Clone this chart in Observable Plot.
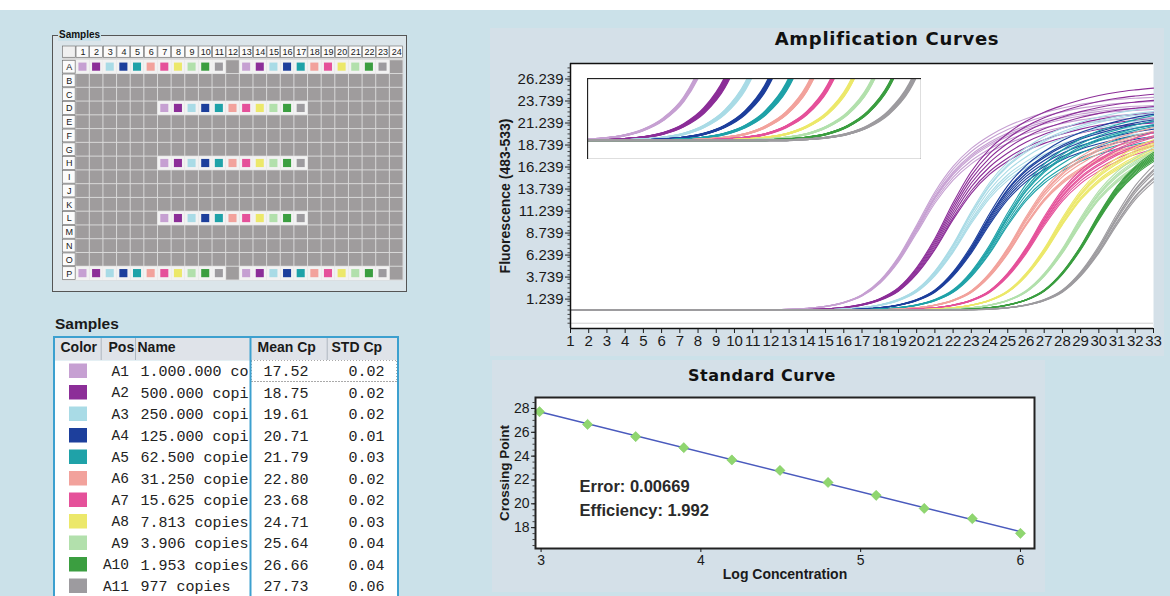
<!DOCTYPE html>
<html>
<head>
<meta charset="utf-8">
<script src="https://cdn.jsdelivr.net/npm/d3@7"></script>
<script src="https://cdn.jsdelivr.net/npm/@observablehq/plot@0.6"></script>
<style>
  body { margin: 0; }
  #root { position: relative; width: 1170px; height: 596px; overflow: hidden; background: #cbe1e9; font-family: "Liberation Sans", Arial, sans-serif; }
  .abs { position: absolute; }
  .abs svg { display: block; }
  .title { position: absolute; font-family: "DejaVu Sans", sans-serif; font-weight: bold; color: #111; white-space: nowrap; transform: translateX(-50%); }
</style>
</head>
<body>
<div id="root">
  <div class="abs" style="left:0;top:0;width:1170px;height:10px;background:#ffffff"></div>
  <div class="abs" style="left:490px;top:28px;width:674px;height:328px;background:#d4e0e8"></div>
  <div class="abs" style="left:492px;top:360px;width:553px;height:232px;background:#d4e0e8"></div>
  <div class="abs" style="left:52px;top:35px;width:353px;height:255px;border:1px solid #555;background:#dbe5ea"></div>
  <div class="abs" style="left:58px;top:28px;padding:0 1px;font-size:10px;font-weight:bold;color:#111;background:#cbe1e9;line-height:13px">Samples</div>
  <div class="abs" style="left:55px;top:315px;font-size:15.5px;font-weight:bold;color:#1a1a1a">Samples</div>
  <div class="title" style="left:887px;top:28px;font-size:18px;letter-spacing:0.7px">Amplification Curves</div>
  <div class="title" style="left:762px;top:366px;font-size:16px;letter-spacing:0.5px">Standard Curve</div>
</div>
<script>
// ---------------- data ----------------
const positions = ["A1","A2","A3","A4","A5","A6","A7","A8","A9","A10","A11"];
const dilutionNames = ["1.000.000 copies","500.000 copies","250.000 copies","125.000 copies","62.500 copies","31.250 copies","15.625 copies","7.813 copies","3.906 copies","1.953 copies","977 copies"];
const meanCp = [17.52,18.75,19.61,20.71,21.79,22.80,23.68,24.71,25.64,26.66,27.73];
const stdCp = [0.02,0.02,0.02,0.01,0.03,0.02,0.02,0.03,0.04,0.04,0.06];
const logConc = [6.000,5.699,5.398,5.097,4.796,4.495,4.194,3.893,3.592,3.291,2.990];
const dilutionColors = ["#c6a0d2","#8c2e98","#a9dbe6","#1d3f9c","#1fa2a8","#f2a29c","#e5519a","#ece86a","#b2e0ac","#3b9e40","#9d9b9f"];
const tableHeaders = ["Color","Pos","Name","Mean Cp","STD Cp"];
const fitStats = ["Error: 0.00669","Efficiency: 1.992"];

const plateRows = ["A","B","C","D","E","F","G","H","I","J","K","L","M","N","O","P"];
const plateCols = ["1","2","3","4","5","6","7","8","9","10","11","12","13","14","15","16","17","18","19","20","21","22","23","24"];
// sample runs on the plate: [row, first column] -> 11 dilutions in consecutive wells
const sampleRuns = [["A",1],["A",13],["D",7],["H",7],["L",7],["P",1],["P",13]];

const cycles = [1,2,3,4,5,6,7,8,9,10,11,12,13,14,15,16,17,18,19,20,21,22,23,24,25,26,27,28,29,30,31,32,33];
const xTicks = cycles;
const yTicks = [1.239,3.739,6.239,8.739,11.239,13.739,16.239,18.739,21.239,23.739,26.239];
// fluorescence per cycle, one representative curve per dilution
const curve1  = [0,0,0,0,0,0,0,0,0,0,0,0.02,0.07,0.18,0.41,0.85,1.66,3.22,5.75,9.2,12.77,15.53,17.48,18.86,19.9,20.7,21.34,21.85,22.26,22.54,22.77,22.91,23.0];
const curve2  = [0,0,0,0,0,0,0,0,0,0,0,0,0,0.05,0.12,0.28,0.61,1.22,2.35,4.47,7.52,11.28,14.57,16.92,18.57,19.86,20.8,21.5,22.09,22.56,22.91,23.15,23.34];
const curve3  = [0,0,0,0,0,0,0,0,0,0,0,0,0,0,0.04,0.11,0.26,0.57,1.14,2.2,4.18,7.04,10.56,13.64,15.84,17.38,18.59,19.47,20.13,20.68,21.12,21.45,21.67];
const curve4  = [0,0,0,0,0,0,0,0,0,0,0,0,0,0,0,0.04,0.11,0.26,0.56,1.12,2.15,4.09,6.88,10.32,13.33,15.48,16.99,18.17,19.03,19.67,20.21,20.64,20.96];
const curve5  = [0,0,0,0,0,0,0,0,0,0,0,0,0,0,0,0,0.04,0.11,0.26,0.56,1.12,2.15,4.09,6.88,10.32,13.33,15.48,16.99,18.17,19.03,19.67,20.21,20.64];
const curve6  = [0,0,0,0,0,0,0,0,0,0,0,0,0,0,0,0,0,0.04,0.11,0.25,0.55,1.09,2.1,3.99,6.72,10.08,13.02,15.12,16.59,17.75,18.59,19.22,19.74];
const curve7  = [0,0,0,0,0,0,0,0,0,0,0,0,0,0,0,0,0,0,0.04,0.11,0.25,0.55,1.09,2.1,3.99,6.72,10.08,13.02,15.12,16.59,17.75,18.59,19.22];
const curve8  = [0,0,0,0,0,0,0,0,0,0,0,0,0,0,0,0,0,0,0,0.04,0.11,0.25,0.55,1.09,2.1,3.99,6.72,10.08,13.02,15.12,16.59,17.75,18.59];
const curve9  = [0,0,0,0,0,0,0,0,0,0,0,0,0,0,0,0,0,0,0,0,0.04,0.11,0.25,0.55,1.09,2.1,3.99,6.72,10.08,13.02,15.12,16.59,17.75];
const curve10 = [0,0,0,0,0,0,0,0,0,0,0,0,0,0,0,0,0,0,0,0,0,0.04,0.11,0.26,0.57,1.14,2.2,4.18,7.04,10.56,13.64,15.84,17.38];
const curve11 = [0,0,0,0,0,0,0,0,0,0,0,0,0,0,0,0,0,0,0,0,0,0,0.04,0.11,0.26,0.56,1.12,2.15,4.09,6.88,10.32,13.33,15.48];
const baseCurves = [curve1,curve2,curve3,curve4,curve5,curve6,curve7,curve8,curve9,curve10,curve11];
// plateau of each of the 7 replicates relative to the representative curve
const replicatePlateau = [
  [1.03,1.01,0.99,0.97,1.05,0.95,1.00],
  [1.08,1.05,1.02,0.99,0.96,0.93,0.91],
  [1.06,1.03,1.00,0.97,0.95,1.04,0.93],
  [1.06,1.03,1.00,0.98,0.96,1.02,0.94],
  [1.07,1.04,1.01,0.98,0.95,1.02,0.93],
  [1.05,1.02,1.00,0.97,0.95,1.03,0.96],
  [1.05,1.02,0.99,0.97,0.95,1.03,1.00],
  [1.04,1.02,1.00,0.98,0.96,1.01,0.97],
  [1.04,1.02,1.00,0.98,0.96,1.01,0.97],
  [1.03,1.01,1.00,0.99,0.98,1.02,0.97],
  [1.06,1.03,1.00,0.97,0.94,1.02,0.96]
];
const stdXTicks = [3,4,5,6];
const stdYTicks = [18,20,22,24,26,28];

// ---------------- layout / helpers ----------------
const root = document.getElementById("root");
function place(node, left, top, w) {
  const d = document.createElement("div");
  d.className = "abs";
  d.style.left = left + "px"; d.style.top = top + "px"; d.style.width = w + "px";
  d.appendChild(node); root.appendChild(d);
  return d;
}
const hasAxisMarks = typeof Plot.axisY === "function";
const ink = "#1a1a1a";

// ---------------- plate map ----------------
const gridWells = d3.cross(plateRows, plateCols).map(([row, col]) => ({row, col}));
const wells = [];
sampleRuns.forEach(([row, start]) => positions.forEach((p, k) => wells.push({row, col: String(start + k), dil: k})));

const plate = Plot.plot({
  width: 356, height: 245, marginLeft: 10, marginRight: 5, marginTop: 6, marginBottom: 5,
  x: {type: "band", domain: ["", ...plateCols], padding: 0, round: false, axis: null},
  y: {type: "band", domain: ["", ...plateRows], padding: 0, round: false, axis: null},
  style: {background: "transparent", fontFamily: "Liberation Sans, Arial", fontSize: "9px", color: ink},
  marks: [
    Plot.frame({fill: "#d9d9d9", stroke: null}),
    Plot.cell(gridWells, {x: "col", y: "row", fill: "#9f9c9d", inset: 0.5}),
    Plot.cell(wells, {x: "col", y: "row", fill: "#f2f2f2"}),
    Plot.cell(wells, {x: "col", y: "row", fill: d => dilutionColors[d.dil], inset: 2.8}),
    Plot.cell(plateCols, {x: d => d, y: () => "", fill: "#fbfbfb", stroke: "#666", strokeWidth: 0.6, insetBottom: 2.5, insetLeft: 0.4, insetRight: 0.4}),
    Plot.text(plateCols, {x: d => d, y: () => "", text: d => d, dy: -1.3, fontSize: 9, fill: ink}),
    Plot.cell(plateRows, {x: () => "", y: d => d, fill: "#fbfbfb", stroke: "#666", strokeWidth: 0.6, inset: 0.5}),
    Plot.text(plateRows, {x: () => "", y: d => d, text: d => d, fontSize: 9, fill: ink}),
    Plot.cell([""], {x: () => "", y: () => "", fill: "#f0f0f0", stroke: "#666", strokeWidth: 0.6, insetBottom: 2.5, insetLeft: 0.4, insetRight: 0.4})
  ]
});
place(plate, 52, 40, 356);

// ---------------- samples table ----------------
const blue = "#3ca0cf";
const colX = [6, 54, 83, 203, 277];      // header text x (px within table)
const sepX = [46.7, 81, 196, 272.7];     // header separators
const tableRows = positions.map((p, i) => ({pos: p, name: dilutionNames[i], mean: meanCp[i], std: stdCp[i], color: dilutionColors[i]}));
const tx = {domain: [0, 343], range: [0, 343], axis: null};

const header = Plot.plot({
  width: 343, height: 23, margin: 0, x: tx,
  style: {background: "transparent"},
  marks: [
    Plot.frame({fill: "#dfe3e9", stroke: null}),
    Plot.ruleX(sepX, {stroke: "#aeb7c0", strokeWidth: 1}),
    Plot.ruleX([sepX[2]], {stroke: blue, strokeWidth: 2}),
    Plot.text(tableHeaders, {x: (d, i) => colX[i], text: d => d, textAnchor: "start", dy: -1.5, fontWeight: "bold", fontSize: 14, fontFamily: "Liberation Sans, Arial", fill: ink})
  ]
});
place(header, 54, 337, 343);

const mono = "Liberation Mono, Courier New, monospace";
const body = Plot.plot({
  width: 343, height: 237, margin: 0, x: tx,
  y: {type: "band", domain: positions, range: [0, 236.5], padding: 0, round: false, axis: null},
  style: {background: "transparent"},
  marks: [
    Plot.frame({fill: "#ffffff", stroke: null}),
    Plot.barX(tableRows, {x1: 15, x2: 33, y: "pos", fill: "color", insetTop: 3.5, insetBottom: 3.5}),
    Plot.text(tableRows, {x: 74.5, y: "pos", text: "pos", textAnchor: "end", fontFamily: mono, fontSize: 14.5, fill: "#222"}),
    Plot.text(tableRows, {x: 86, y: "pos", text: "name", textAnchor: "start", fontFamily: mono, monospace: true, lineWidth: 7.75, textOverflow: "clip", fontSize: 15, fill: "#222"}),
    Plot.barX([0], {x1: 196, x2: 343, fill: "#ffffff"}),
    Plot.barX(tableRows.slice(0, 1), {x1: 197, x2: 343, y: "pos", fill: "none", stroke: "#555", strokeDasharray: "1,2"}),
    Plot.ruleX([196], {stroke: blue, strokeWidth: 2}),
    Plot.text(tableRows, {x: 231.5, y: "pos", text: d => d.mean.toFixed(2), fontFamily: mono, fontSize: 15, fill: "#222"}),
    Plot.text(tableRows, {x: 330, y: "pos", text: d => d.std.toFixed(2), textAnchor: "end", fontFamily: mono, fontSize: 15, fill: "#222"})
  ]
});
place(body, 54, 360, 343);
const border = document.createElement("div");
border.className = "abs";
Object.assign(border.style, {left: "53px", top: "336px", width: "342px", height: "258px", border: "2px solid " + blue});
root.appendChild(border);

// ---------------- amplification curves ----------------
const curveTable = [];
baseCurves.forEach((vals, i) => replicatePlateau[i].forEach((s, r) => vals.forEach((v, k) =>
  curveTable.push({id: i * 10 + r, dil: i, cycle: cycles[k], f: v * s, color: dilutionColors[i]}))));
const xDomain = [1, 33];
const yDomain = [-2.1, 28.0];
const yMinor = d3.range(-1.5, 28, 0.5);

const ampAxes = hasAxisMarks ? [
  Plot.axisY({ticks: yMinor, tickSize: 2.5, tickFormat: () => "", label: null, stroke: "#444"}),
  Plot.axisY({ticks: yTicks, tickSize: 5, tickPadding: 2, tickFormat: d3.format(".3f"), label: null}),
  Plot.axisX({ticks: xTicks, tickSize: 5, tickPadding: 2, tickFormat: d => String(d), label: null})
] : [];
const amp = Plot.plot({
  width: 676, height: 330, marginLeft: 80, marginRight: 13, marginTop: 38, marginBottom: 27,
  x: {domain: xDomain, ticks: xTicks, tickSize: 5, tickPadding: 2, tickFormat: d => String(d), label: null},
  y: {domain: yDomain, ticks: yTicks, tickSize: 5, tickPadding: 2, tickFormat: d3.format(".3f"), label: null},
  color: {type: "identity"},
  style: {background: "transparent", fontFamily: "Liberation Sans, Arial", fontSize: "15px", color: ink},
  marks: [
    Plot.frame({fill: "#ffffff", stroke: null}),
    Plot.ruleY([-1.5], {stroke: "#cfcfcf"}),
    Plot.line(curveTable, {x: "cycle", y: "f", z: "id", stroke: "color", strokeWidth: 1.1, curve: "monotone-x"}),
    Plot.ruleX([xDomain[0]], {stroke: "#111", strokeWidth: 1.5}),
    Plot.ruleY([yDomain[1]], {stroke: "#111", strokeWidth: 1.5}),
    Plot.ruleY([yDomain[0]], {stroke: "#111", strokeWidth: 1.5}),
    ...ampAxes,
    Plot.text(["Fluorescence (483-533)"], {text: d => d, frameAnchor: "left", textAnchor: "middle", lineAnchor: "middle", rotate: -90, dx: -65, fontWeight: "bold", fontSize: 14, fill: ink})
  ]
});
place(amp, 490, 25, 676);

// inset: zoom on the exponential phase
const inset = Plot.plot({
  width: 334, height: 81, margin: 0,
  x: {domain: [12.3, 28.6], axis: null},
  y: {domain: [-0.78, 2.5], axis: null},
  color: {type: "identity"},
  style: {background: "transparent"},
  marks: [
    Plot.frame({fill: "#ffffff", stroke: null}),
    Plot.line(curveTable, {x: "cycle", y: "f", z: "id", stroke: "color", strokeWidth: 1.8, curve: "monotone-x", clip: true}),
    Plot.frame({stroke: "#222", strokeWidth: 1.3})
  ]
});
place(inset, 587, 78, 334);

// ---------------- standard curve ----------------
const stdData = logConc.map((x, i) => ({x, cp: meanCp[i]}));
const stdAxes = hasAxisMarks ? [
  Plot.axisY({ticks: d3.range(16.5, 29, 0.5), tickSize: 2.5, tickFormat: () => "", label: null, stroke: "#444"}),
  Plot.axisY({ticks: stdYTicks, tickSize: 4, tickPadding: 2, tickFormat: d => String(d), label: null}),
  Plot.axisX({ticks: stdXTicks, tickSize: 4, tickPadding: 3, tickFormat: d => String(d), label: null})
] : [];
const std = Plot.plot({
  width: 560, height: 236, marginLeft: 45, marginRight: 16, marginTop: 37, marginBottom: 48,
  x: {domain: [2.965, 6.088], ticks: stdXTicks, tickSize: 4, tickFormat: d => String(d), label: null},
  y: {domain: [16.25, 28.92], ticks: stdYTicks, tickSize: 4, tickFormat: d => String(d), label: null},
  style: {background: "transparent", fontFamily: "Liberation Sans, Arial", fontSize: "14px", color: ink},
  marks: [
    Plot.frame({fill: "#ffffff", stroke: null}),
    Plot.linearRegressionY(stdData, {x: "x", y: "cp", stroke: "#4a5abd", strokeWidth: 1.5, ci: 0}),
    Plot.dot(stdData, {x: "x", y: "cp", symbol: "diamond2", r: 4.6, fill: "#8fd66f", stroke: "#7cc85c", strokeWidth: 0.5}),
    Plot.frame({stroke: "#222", strokeWidth: 2}),
    ...stdAxes,
    Plot.text([fitStats[0]], {text: d => d, frameAnchor: "left", dx: 44, dy: 14, textAnchor: "start", fontWeight: "bold", fontSize: 16.5, fill: "#2a2a2a"}),
    Plot.text([fitStats[1]], {text: d => d, frameAnchor: "left", dx: 44, dy: 37.5, textAnchor: "start", fontWeight: "bold", fontSize: 16.5, fill: "#2a2a2a"}),
    Plot.text(["Crossing Point"], {text: d => d, frameAnchor: "left", textAnchor: "middle", lineAnchor: "middle", rotate: -90, dx: -31, fontWeight: "bold", fontSize: 13.5, fill: ink}),
    Plot.text(["Log Concentration"], {text: d => d, frameAnchor: "bottom", dy: 30, fontWeight: "bold", fontSize: 14, fill: ink})
  ]
});
place(std, 490, 360, 560);
</script>
</body>
</html>
